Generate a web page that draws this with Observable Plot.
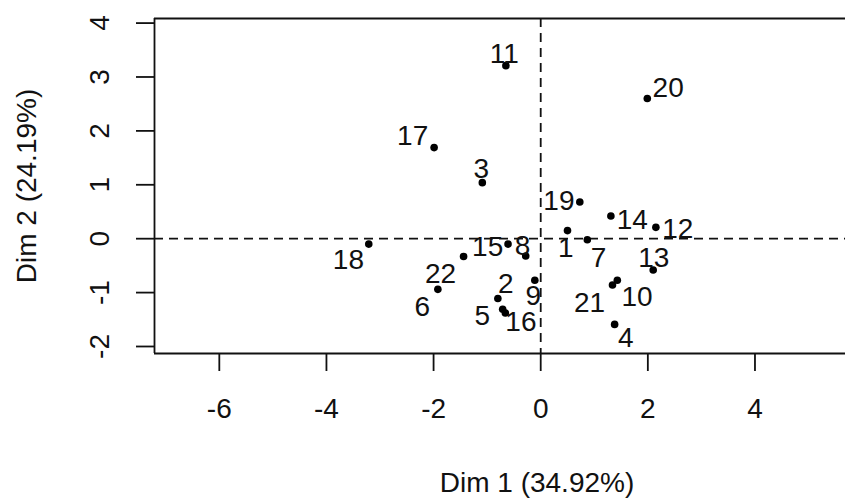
<!DOCTYPE html>
<html>
<head>
<meta charset="utf-8">
<script src="https://cdn.jsdelivr.net/npm/d3@7"></script>
<script src="https://cdn.jsdelivr.net/npm/@observablehq/plot@0.6"></script>
<style>
  html, body { margin: 0; padding: 0; background: #ffffff; }
  #chart svg { display: block; font-family: "Liberation Sans", Arial, sans-serif; }
</style>
</head>
<body>
<div id="chart"></div>
<script>
// Individuals (PCA factor map)
const ids    = ["1","2","3","4","5","6","7","8","9","10","11","12","13","14","15","16","17","18","19","20","21","22"];
const dim1   = [0.50,-0.80,-1.09,1.38,-0.71,-1.92,0.87,-0.28,-0.11,1.43,-0.65,2.15,2.10,1.31,-0.61,-0.66,-1.99,-3.21,0.73,1.99,1.34,-1.44];
const dim2   = [0.15,-1.11,1.04,-1.59,-1.31,-0.94,-0.02,-0.32,-0.77,-0.77,3.21,0.21,-0.58,0.42,-0.10,-1.38,1.69,-0.10,0.68,2.60,-0.86,-0.33];
// label anchor positions (data units, as placed by autoLab)
const labX   = [0.47,-0.65,-1.11,1.59,-1.09,-2.21,1.08,-0.34,-0.14,1.80,-0.68,2.56,2.11,1.71,-0.99,-0.37,-2.39,-3.59,0.34,2.38,0.91,-1.87];
const labY   = [-0.17,-0.85,1.29,-1.84,-1.44,-1.27,-0.35,-0.13,-1.07,-1.08,3.43,0.18,-0.35,0.34,-0.16,-1.54,1.91,-0.40,0.70,2.80,-1.19,-0.65];

const xTicks = [-6,-4,-2,0,2,4];
const yTicks = [-2,-1,0,1,2,3,4];
const xDomain = [-7.21, 5.69];
const yDomain = [-2.13, 4.085];
const refLines = [0];
const xTitle = "Dim 1 (34.92%)";
const yTitle = "Dim 2 (24.19%)";

const points = ids.map((id, i) => ({id, x: dim1[i], y: dim2[i], lx: labX[i], ly: labY[i]}));

const ink = "#111";
const FS = 28;
const fmt = d => String(d);

const chart = Plot.plot({
  width: 845,
  height: 501,
  marginLeft: 154,
  marginRight: 0,
  marginTop: 18,
  marginBottom: 148,
  style: {fontFamily: '"Liberation Sans", Arial, sans-serif', background: "#fff", overflow: "visible"},
  x: {domain: xDomain, axis: null},
  y: {domain: yDomain, axis: null},
  marks: [
    Plot.ruleX(refLines, {stroke: ink, strokeWidth: 1.8, strokeDasharray: "9,6"}),
    Plot.ruleY(refLines, {stroke: ink, strokeWidth: 1.8, strokeDasharray: "9,6"}),
    Plot.ruleY([yDomain[0], yDomain[1]], {stroke: ink, strokeWidth: 1.8}),
    Plot.ruleX([xDomain[0]], {stroke: ink, strokeWidth: 1.8}),
    Plot.axisX(xTicks, {anchor: "bottom", tickSize: 18, tickPadding: 27, tickFormat: fmt, fontSize: FS, stroke: ink, strokeWidth: 1.8, fill: ink, label: null}),
    Plot.axisY(yTicks, {anchor: "left", tickSize: 18, tickPadding: 28, tickRotate: -90, tickFormat: fmt, fontSize: FS, stroke: ink, strokeWidth: 1.8, fill: ink, label: null}),
    Plot.text([xTitle], {frameAnchor: "bottom", text: d => d, dx: 37, dy: 130, fontSize: FS, fill: ink, textAnchor: "middle", lineAnchor: "middle"}),
    Plot.text([yTitle], {frameAnchor: "left", text: d => d, dx: -127, rotate: -90, fontSize: FS, fill: ink, textAnchor: "middle", lineAnchor: "middle"}),
    Plot.dot(points, {x: "x", y: "y", r: 3.8, fill: "#000", stroke: null}),
    Plot.text(points, {x: "lx", y: "ly", text: "id", fontSize: FS, fill: ink, lineAnchor: "middle", textAnchor: "middle"})
  ]
});
document.getElementById("chart").appendChild(chart);
</script>
</body>
</html>
